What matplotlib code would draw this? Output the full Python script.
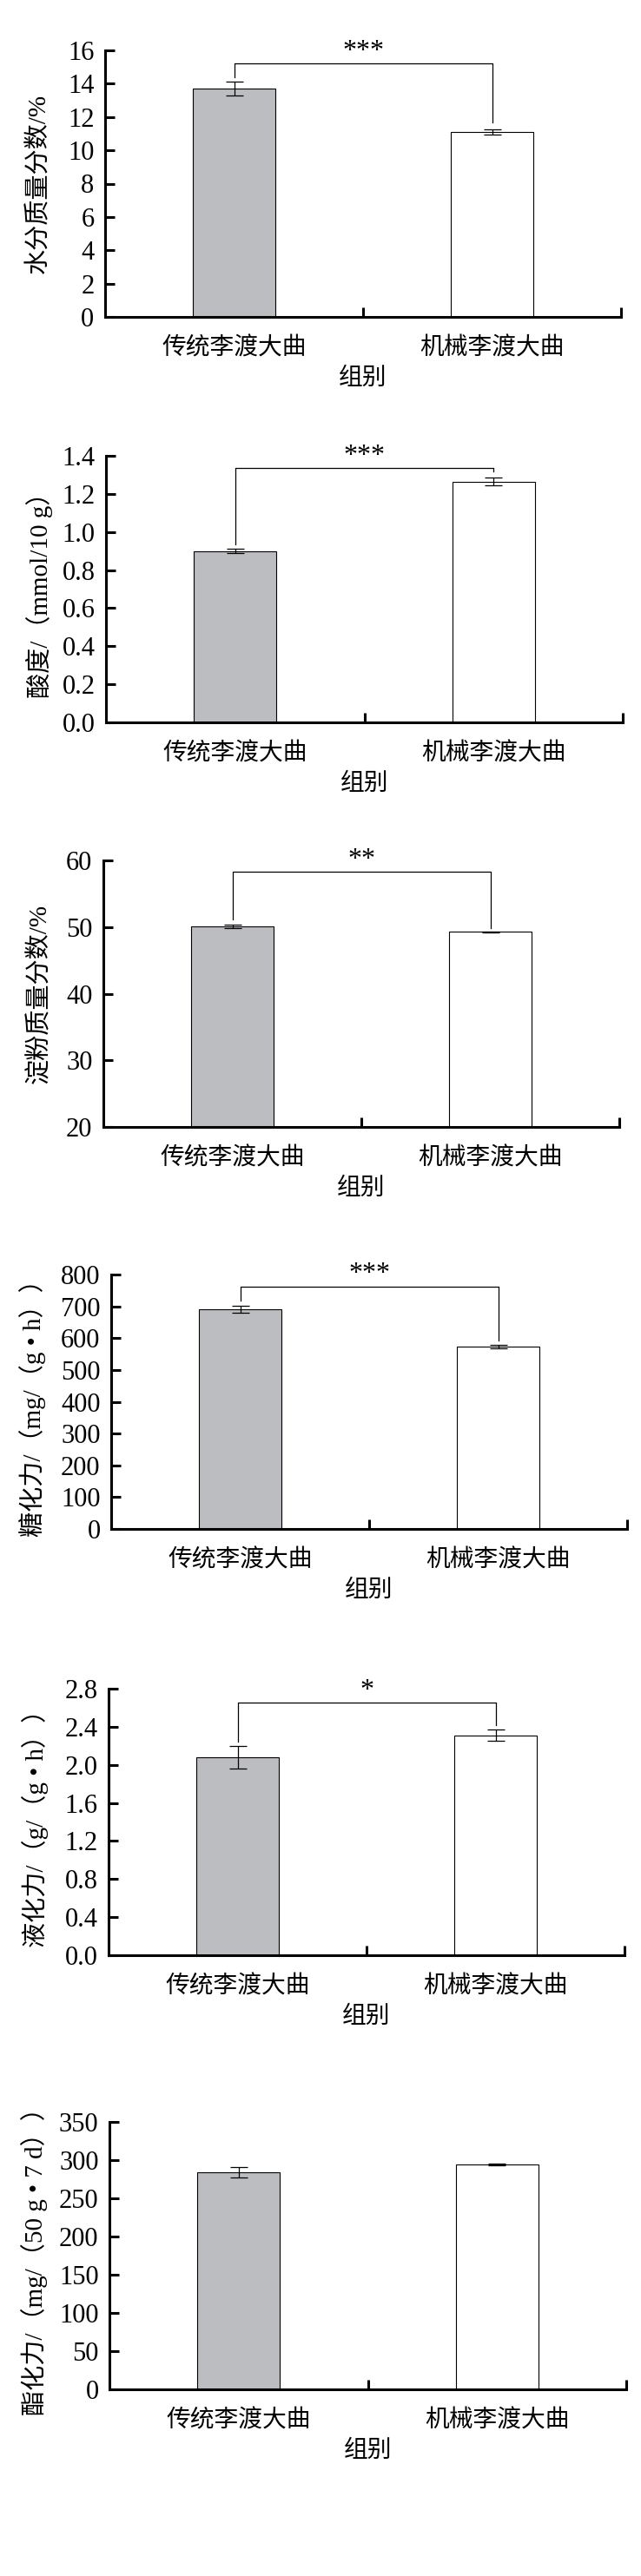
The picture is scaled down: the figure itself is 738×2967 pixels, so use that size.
import matplotlib
matplotlib.use("Agg")
import matplotlib.pyplot as plt
import numpy as np
from matplotlib.ticker import FormatStrFormatter

plt.rcParams['font.family'] = ['Liberation Serif', 'Noto Sans CJK SC']

groups = ['传统李渡大曲', '机械李渡大曲']
xlabel = '组别'

# one entry per panel, top to bottom
ylabels = ['水分质量分数/%',
           '酸度/（mmol/10 g）',
           '淀粉质量分数/%',
           '糖化力/（mg/（g • h））',
           '液化力/（g/（g • h））',
           '酯化力/（mg/（50 g • 7 d））']
means = [[13.7, 11.1],
         [0.90, 1.265],
         [50.1, 49.3],
         [692, 573],
         [2.08, 2.31],
         [284, 294]]
errs = [[0.43, 0.15],
        [0.01, 0.02],
        [0.25, 0.08],
        [11, 6],
        [0.12, 0.06],
        [6.6, 1.0]]
sig = ['***', '***', '**', '***', '*', '']
bracket_top = [15.2, 1.335, 58.3, 763, 2.65, None]
bracket_legs = [[14.4, 11.65], [0.936, 1.317], [51.15, 49.9], [718, 593], [2.24, 2.42], None]
ylims = [(0, 16), (0, 1.4), (20, 60), (0, 800), (0, 2.8), (0, 350)]
ysteps = [2, 0.2, 10, 100, 0.4, 50]
yfmt = ['%d', '%.1f', '%d', '%d', '%.1f', '%d']

# axes boxes in pixels: left, right, top, bottom; ylabel x centre
boxes = [(121, 715, 58, 365, 45),
         (122, 717, 525, 832, 45),
         (119, 713, 991, 1298, 45),
         (128, 722, 1468, 1761, 38),
         (125, 719, 1945, 2252, 41),
         (126, 721, 2444, 2752, 40)]

W, H = 738, 2967
fig = plt.figure(figsize=(W / 100, H / 100), dpi=100)
gray = '#bcbdc1'

for i in range(6):
    l, r, t, b, lx = boxes[i]
    ax = fig.add_axes([l / W, 1 - b / H, (r - l) / W, (b - t) / H])
    ax.bar([0, 1], means[i], width=0.32, color=[gray, 'white'],
           edgecolor='black', linewidth=0.8, yerr=errs[i], capsize=7,
           error_kw=dict(elinewidth=0.9, capthick=0.9, ecolor='black'))
    ax.set_xlim(-0.5, 1.5)
    ax.set_ylim(*ylims[i])
    ax.set_yticks(np.arange(ylims[i][0], ylims[i][1] + ysteps[i] / 2, ysteps[i]))
    ax.yaxis.set_major_formatter(FormatStrFormatter(yfmt[i]))
    ax.set_xticks([0.5, 1.5])
    ax.set_xticklabels([])
    ax.set_xticks([0, 1], minor=True)
    ax.set_xticklabels(groups, minor=True)
    for s in ['top', 'right']:
        ax.spines[s].set_visible(False)
    for s in ['left', 'bottom']:
        ax.spines[s].set_linewidth(2.2)
    ax.tick_params(axis='y', direction='in', length=8, width=2.2, pad=9, labelsize=22)
    ax.tick_params(axis='x', which='major', direction='in', length=8, width=2.2)
    ax.tick_params(axis='x', which='minor', length=0, pad=17, labelsize=20)
    ax.set_xlabel(xlabel, fontsize=20, labelpad=6)
    fig.text(lx / W, 1 - (t + b) / 2 / H, ylabels[i], rotation=90,
             ha='center', va='center', fontsize=21)

    if sig[i]:
        by = bracket_top[i]
        ax.plot([0, 0, 1, 1], [bracket_legs[i][0], by, by, bracket_legs[i][1]],
                color='black', lw=0.9, clip_on=False)
        ax.annotate(sig[i], xy=(0.5, by), xytext=(0, 10), textcoords='offset points',
                    ha='center', va='center', fontsize=23, annotation_clip=False)

fig.savefig('out.png', dpi=100)
